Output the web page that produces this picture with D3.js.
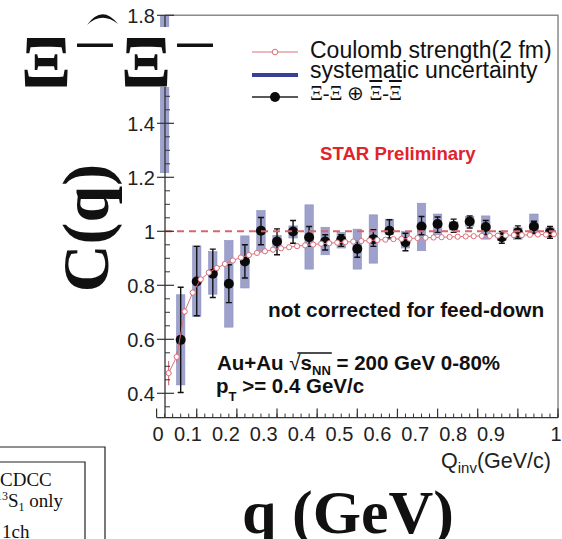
<!DOCTYPE html>
<html><head><meta charset="utf-8">
<script src="https://cdn.jsdelivr.net/npm/d3@7/dist/d3.min.js"></script>
<style>body{margin:0;background:#fff}svg{display:block}</style>
</head><body><svg id="c" width="562" height="539"></svg>
<script>
// ---- data ----
const binQ   = [0.02,0.06,0.10,0.14,0.18,0.22,0.26,0.30,0.34,0.38,0.42,0.46,0.50,0.54,0.58,0.62,0.66,0.70,0.74,0.78,0.82,0.86,0.90,0.94,0.98];
const corrC  = [1.95,0.598,0.814,0.843,0.806,0.888,1.002,0.962,0.999,0.978,0.962,0.969,0.935,0.971,1.002,0.960,1.018,1.027,1.020,1.036,1.016,0.978,0.996,1.018,0.996];
const statLo = [1.85,0.403,0.687,0.755,0.736,0.827,0.950,0.913,0.956,0.944,0.931,0.944,0.904,0.944,0.975,0.928,0.987,0.996,0.996,1.012,0.987,0.956,0.974,0.993,0.974];
const statHi = [2.05,0.793,0.944,0.934,0.876,0.950,1.051,1.009,1.040,1.018,0.987,0.987,0.962,1.006,1.043,0.993,1.055,1.053,1.045,1.057,1.040,0.999,1.020,1.037,1.018];
const sysLo  = [1.217,0.431,0.685,0.767,0.645,0.790,0.925,0.940,0.975,0.860,0.913,0.938,0.860,0.882,0.987,0.938,0.928,0.987,1.005,1.019,0.971,0.965,0.970,0.993,0.980];
const sysHi  = [2.60,0.765,0.946,0.925,0.966,0.983,1.077,0.985,1.020,1.098,1.015,0.996,1.008,1.061,1.045,0.999,1.104,1.064,1.035,1.055,1.057,0.990,1.013,1.064,1.013];

const coulQ = [0.03,0.05,0.07,0.09,0.11,0.13,0.15,0.17,0.19,0.21,0.23,0.25,0.27,0.29,0.31,0.33,0.35,0.37,0.39,0.41,0.43,0.45,0.47,0.49,0.51,0.53,0.55,0.57,0.59,0.61,0.63,0.65,0.67,0.69,0.71,0.73,0.75,0.77,0.79,0.81,0.83,0.85,0.87,0.89,0.91,0.93,0.95,0.97,0.99];
const coulC = [0.475,0.535,0.703,0.773,0.822,0.847,0.864,0.879,0.892,0.903,0.912,0.920,0.926,0.932,0.937,0.941,0.945,0.948,0.951,0.954,0.956,0.958,0.960,0.962,0.964,0.966,0.968,0.969,0.971,0.972,0.973,0.975,0.976,0.977,0.978,0.979,0.980,0.981,0.982,0.983,0.983,0.984,0.985,0.986,0.986,0.987,0.988,0.988,0.989];
const coulErr = [0.045,0.02,0.012,0.008,0.006,0.005,0.004,0.004,0.003,0.003,0.003,0.003,0.003,0.003,0.003,0.003,0.003,0.003,0.003,0.003,0.003,0.003,0.003,0.003,0.003,0.003,0.003,0.003,0.003,0.003,0.003,0.003,0.003,0.003,0.003,0.003,0.003,0.003,0.003,0.003,0.003,0.003,0.003,0.003,0.003,0.003,0.003,0.003,0.003];

const xTickVals = [0,0.1,0.2,0.3,0.4,0.5,0.6,0.7,0.8,0.9,1];
const xTickLabels = ["0","0.1","0.2","0.3","0.4","0.5","0.6","0.7","0.8","0.9","1"];
const yTickVals = [0.4,0.6,0.8,1,1.2,1.4,1.6,1.8];
const yTickLabels = ["0.4","0.6","0.8","1","1.2","1.4","1.6","1.8"];
const legendLabels = ["Coulomb strength(2 fm)","systematic uncertainty"];

// ---- scales ----
const svg = d3.select("#c");
const x = d3.scaleLinear().domain([0,1]).range([156.6,558]);
const y = d3.scaleLinear().domain([0.31,1.8]).range([417.6,15.3]);
const xL = 165, xR = 558, yT = 15.3, yB = 417.6;
// tick-label positions as printed in the figure (slightly compressed w.r.t. the ticks)
const labelX = d3.scaleLinear().domain([0.1,0.9]).range([188,491]);

const SANS = "'Liberation Sans', Arial, Helvetica, sans-serif";
const SERIF = "'Liberation Serif', 'Times New Roman', serif";

svg.append("rect").attr("width",562).attr("height",539).attr("fill","#fff");

const defs = svg.append("defs");
defs.append("clipPath").attr("id","plotclip").append("rect")
  .attr("x",x(0)).attr("y",yT).attr("width",xR-x(0)).attr("height",yB-yT);

// frame (top/right grey)
svg.append("path").attr("d",`M${xL},${yT}H${xR}V${yB}`).attr("fill","none").attr("stroke","#8a8a8a").attr("stroke-width",1.5);

const plot = svg.append("g").attr("clip-path","url(#plotclip)");

// systematic bands
plot.selectAll("rect.sys").data(binQ).join("rect").attr("class","sys")
  .attr("x",(d)=>x(d)-4.2).attr("width",8.4)
  .attr("y",(d,i)=>y(sysHi[i])).attr("height",(d,i)=>y(sysLo[i])-y(sysHi[i]))
  .attr("fill","#9da1cb").attr("stroke","#8d91c0").attr("stroke-width",0.6);

// stat error bars
const eb = plot.selectAll("g.eb").data(binQ).join("g").attr("class","eb");
eb.append("line").attr("x1",d=>x(d)).attr("x2",d=>x(d))
  .attr("y1",(d,i)=>y(statHi[i])).attr("y2",(d,i)=>y(statLo[i]))
  .attr("stroke","#111").attr("stroke-width",1.4);
eb.append("line").attr("x1",d=>x(d)-3).attr("x2",d=>x(d)+3)
  .attr("y1",(d,i)=>y(statHi[i])).attr("y2",(d,i)=>y(statHi[i])).attr("stroke","#111").attr("stroke-width",1.4);
eb.append("line").attr("x1",d=>x(d)-3).attr("x2",d=>x(d)+3)
  .attr("y1",(d,i)=>y(statLo[i])).attr("y2",(d,i)=>y(statLo[i])).attr("stroke","#111").attr("stroke-width",1.4);
plot.selectAll("circle.pt").data(binQ).join("circle").attr("class","pt")
  .attr("cx",d=>x(d)).attr("cy",(d,i)=>y(corrC[i])).attr("r",5).attr("fill","#0a0a0a");

// dashed line at 1
plot.append("line").attr("x1",xL).attr("x2",xR).attr("y1",y(1)).attr("y2",y(1))
  .attr("stroke","#d8666e").attr("stroke-width",2).attr("stroke-dasharray","7,5");

// Coulomb curve
const PINK = "#d9707c";
plot.append("path").datum(coulQ)
  .attr("d",d3.line().x(d=>x(d)).y((d,i)=>y(coulC[i])))
  .attr("fill","none").attr("stroke",PINK).attr("stroke-width",1);
plot.selectAll("line.ce").data(coulQ).join("line").attr("class","ce")
  .attr("x1",d=>x(d)).attr("x2",d=>x(d))
  .attr("y1",(d,i)=>y(coulC[i]+coulErr[i])).attr("y2",(d,i)=>y(coulC[i]-coulErr[i]))
  .attr("stroke",PINK).attr("stroke-width",1.2);
plot.selectAll("circle.cp").data(coulQ).join("circle").attr("class","cp")
  .attr("cx",d=>x(d)).attr("cy",(d,i)=>y(coulC[i])).attr("r",2.6)
  .attr("fill","#fff").attr("stroke",PINK).attr("stroke-width",1);

// y axis
const yAxisG = svg.append("g");
yAxisG.append("line").attr("x1",xL).attr("x2",xL).attr("y1",yT).attr("y2",yB).attr("stroke","#333").attr("stroke-width",1.3);
const yMinor = d3.range(0.35,1.8001,0.05).filter(v=>Math.abs(v*5-Math.round(v*5))>1e-6);
yAxisG.selectAll("line.ymi").data(yMinor).join("line").attr("class","ymi")
  .attr("x1",xL).attr("x2",xL+5).attr("y1",d=>y(d)).attr("y2",d=>y(d)).attr("stroke","#333");
yAxisG.selectAll("line.yma").data(yTickVals).join("line").attr("class","yma")
  .attr("x1",xL-8).attr("x2",xL+9).attr("y1",d=>y(d)).attr("y2",d=>y(d)).attr("stroke","#333").attr("stroke-width",1.2);
yAxisG.selectAll("text").data(yTickVals).join("text")
  .attr("x",155).attr("y",d=>y(d)).attr("dy","0.36em").attr("text-anchor","end")
  .attr("font-family",SANS).attr("font-size",20).attr("fill","#222")
  .text((d,i)=>yTickLabels[i]);

// x axis
const xAxisG = svg.append("g");
xAxisG.append("line").attr("x1",x(0)).attr("x2",xR).attr("y1",yB).attr("y2",yB).attr("stroke","#333").attr("stroke-width",1.3);
const xMinor = d3.range(0.02,1.0001,0.02);
xAxisG.selectAll("line.xmi").data(xMinor).join("line").attr("class","xmi")
  .attr("x1",d=>x(d)).attr("x2",d=>x(d)).attr("y1",yB).attr("y2",yB-4).attr("stroke","#333");
xAxisG.selectAll("line.xma").data(xTickVals).join("line").attr("class","xma")
  .attr("x1",d=>x(d)).attr("x2",d=>x(d)).attr("y1",yB).attr("y2",yB-9).attr("stroke","#333").attr("stroke-width",1.2);
xAxisG.selectAll("text").data(xTickVals).join("text")
  .attr("x",(d)=> d===0 ? x(d)+1.5 : d===1 ? x(d)-2 : labelX(d)).attr("y",441)
  .attr("text-anchor","middle").attr("font-family",SANS).attr("font-size",20).attr("fill","#222")
  .text((d,i)=>xTickLabels[i]);

// x title
const xt = svg.append("text").attr("x",551).attr("y",468).attr("text-anchor","end")
  .attr("font-family",SANS).attr("font-size",21.5).attr("fill","#222");
xt.append("tspan").text("Q");
xt.append("tspan").attr("font-size",15).attr("dy",5).text("inv");
xt.append("tspan").attr("dy",-5).text("(GeV/c)");

// legend
const lg = svg.append("g");
const legY = [52,75,97];
const legTextY = [57.5,77.5,100];
lg.append("line").attr("x1",252).attr("x2",298).attr("y1",legY[0]).attr("y2",legY[0]).attr("stroke",PINK).attr("stroke-width",1);
lg.append("circle").attr("cx",275).attr("cy",legY[0]).attr("r",2.8).attr("fill","#fff").attr("stroke",PINK);
lg.append("line").attr("x1",252).attr("x2",298).attr("y1",legY[1]).attr("y2",legY[1]).attr("stroke","#3a3f96").attr("stroke-width",4);
lg.append("line").attr("x1",252).attr("x2",298).attr("y1",legY[2]).attr("y2",legY[2]).attr("stroke","#222").attr("stroke-width",1.3);
lg.append("circle").attr("cx",275).attr("cy",legY[2]).attr("r",5).attr("fill","#0a0a0a");
lg.selectAll("text.lt").data(legendLabels).join("text").attr("class","lt")
  .attr("x",310).attr("y",(d,i)=>legTextY[i]).attr("font-family",SANS)
  .attr("font-size",23).attr("fill","#111").text(d=>d);
const l3 = lg.append("text").attr("x",310).attr("y",legTextY[2]).attr("font-family",SERIF)
  .attr("font-size",20).attr("fill","#111");
l3.append("tspan").text("Ξ-Ξ ⊕ ");
l3.append("tspan").attr("text-decoration","overline").text("Ξ");
l3.append("tspan").text("-");
l3.append("tspan").attr("text-decoration","overline").text("Ξ");

svg.append("text").attr("x",320).attr("y",160).attr("font-family",SANS).attr("font-weight","bold")
  .attr("font-size",18.6).attr("fill","#e2222c").text("STAR Preliminary");
svg.append("text").attr("x",268).attr("y",317).attr("font-family",SANS).attr("font-weight","bold")
  .attr("font-size",20.8).attr("fill","#111").text("not corrected for feed-down");

const t1 = svg.append("text").attr("x",217).attr("y",370).attr("font-family",SANS).attr("font-weight","bold")
  .attr("font-size",20.5).attr("fill","#111");
t1.append("tspan").text("Au+Au ");
t1.append("tspan").attr("font-weight","normal").text("√");
t1.append("tspan").text("s");
t1.append("tspan").attr("font-size",13).attr("dy",5).text("NN");
t1.append("tspan").attr("dy",-5).text(" = 200 GeV 0-80%");
{
  const n = t1.node();
  const s0 = n.getStartPositionOfChar(6).x + 8;
  const s1 = n.getEndPositionOfChar(9).x + 1;
  svg.append("line").attr("x1",s0).attr("x2",s1).attr("y1",353).attr("y2",353).attr("stroke","#111").attr("stroke-width",1.3);
}
const t2 = svg.append("text").attr("x",216).attr("y",393).attr("font-family",SANS).attr("font-weight","bold")
  .attr("font-size",20.5).attr("fill","#111");
t2.append("tspan").text("p");
t2.append("tspan").attr("font-size",13).attr("dy",8).text("T");
t2.append("tspan").attr("dy",-8).text(" >= 0.4 GeV/c");

// ---- overlays (big serif labels) ----
svg.append("rect").attr("x",0).attr("y",27).attr("width",218).attr("height",60).attr("fill","#fff");
svg.append("text").attr("x",46).attr("y",87).attr("text-anchor","middle").attr("font-family",SERIF).attr("font-weight","bold").attr("font-size",74).attr("fill","#111").text("Ξ");
svg.append("text").attr("x",146).attr("y",87).attr("text-anchor","middle").attr("font-family",SERIF).attr("font-weight","bold").attr("font-size",74).attr("fill","#111").text("Ξ");
svg.append("text").attr("x",95).attr("y",62).attr("text-anchor","middle").attr("font-family",SERIF).attr("font-size",70).attr("fill","#111").text("–");
svg.append("text").attr("x",195).attr("y",62).attr("text-anchor","middle").attr("font-family",SERIF).attr("font-size",70).attr("fill","#111").text("–");
svg.append("path").attr("d","M87,25 Q102,4 118,24 Q102,11 87,25 Z").attr("fill","#111");

svg.append("text").attr("transform","translate(108,228) rotate(-90)").attr("text-anchor","middle")
  .attr("font-family",SERIF).attr("font-weight","bold").attr("font-size",66).attr("fill","#111").text("C(q)");
svg.append("text").attr("x",348).attr("y",533).attr("text-anchor","middle")
  .attr("font-family",SERIF).attr("font-weight","bold").attr("font-size",62).attr("fill","#111").text("q (GeV)");

// CDCC legend fragment
svg.append("path").attr("d","M0,447H105V539").attr("fill","none").attr("stroke","#222").attr("stroke-width",1.2);
svg.append("path").attr("d","M0,462H85V539").attr("fill","none").attr("stroke","#222").attr("stroke-width",1.2);
svg.append("text").attr("x",0).attr("y",486).attr("font-family",SERIF).attr("font-size",19).attr("fill","#111").text("CDCC");
const t3 = svg.append("text").attr("x",-4).attr("y",507).attr("font-family",SERIF).attr("font-size",19).attr("fill","#111");
t3.append("tspan").attr("font-size",12).attr("dy",-7).text("13");
t3.append("tspan").attr("dy",7).text("S");
t3.append("tspan").attr("font-size",12).attr("dy",4).text("1");
t3.append("tspan").attr("dy",-4).text(" only");
svg.append("text").attr("x",2).attr("y",538).attr("font-family",SERIF).attr("font-size",19).attr("fill","#111").text("1ch");
</script></body></html>
